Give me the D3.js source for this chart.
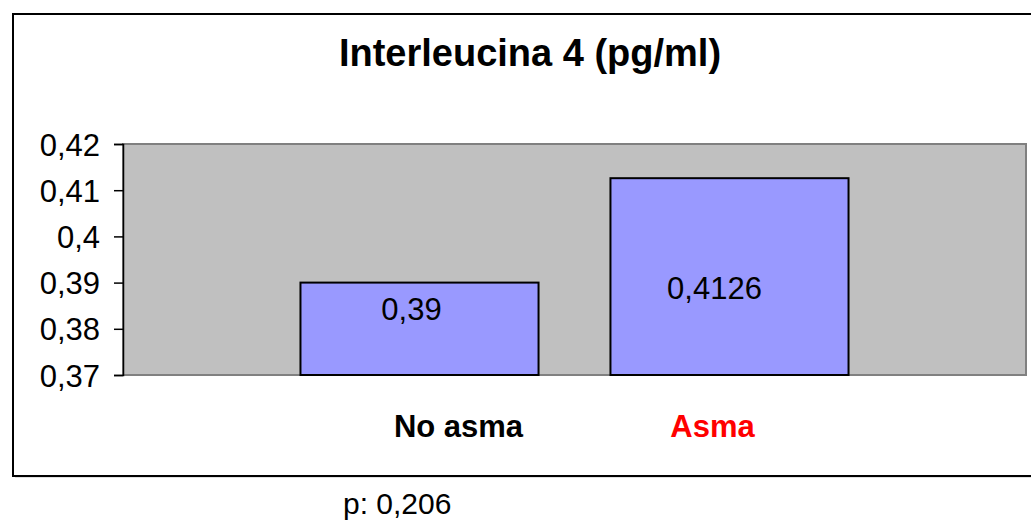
<!DOCTYPE html>
<html>
<head>
<meta charset="utf-8">
<script src="https://cdn.jsdelivr.net/npm/d3@7"></script>
<style>
  html, body { margin: 0; padding: 0; background: #fff; }
  svg { display: block; }
  text { font-family: "Liberation Sans", Arial, sans-serif; }
</style>
</head>
<body>
<svg id="chart" width="1031" height="522"></svg>
<script>
const categories = ["No asma", "Asma"];
const values = [0.39, 0.4126];
const valueLabels = ["0,39", "0,4126"];
const categoryColors = ["#000000", "#FF0000"];
const yTicks = [0.37, 0.38, 0.39, 0.40, 0.41, 0.42];
const yTickLabels = ["0,37", "0,38", "0,39", "0,4", "0,41", "0,42"];
const title = "Interleucina 4 (pg/ml)";
const footnote = "p: 0,206";

const svg = d3.select("#chart");

// outer chart frame
svg.append("rect")
  .attr("x", 15).attr("y", 16).attr("width", 1040).attr("height", 462)
  .attr("fill", "#e0e0e0");
svg.append("rect")
  .attr("x", 13).attr("y", 14).attr("width", 1040).attr("height", 462)
  .attr("fill", "#fff").attr("stroke", "#000").attr("stroke-width", 2);

const plot = { left: 123, right: 1026, top: 144, bottom: 375 };

const x = d3.scaleBand()
  .domain(categories)
  .range([plot.left, plot.right])
  .paddingInner(0.232)
  .paddingOuter(0.5725);

const y = d3.scaleLinear()
  .domain([0.37, 0.42])
  .range([plot.bottom, plot.top]);

// plot area
svg.append("rect")
  .attr("x", plot.left).attr("y", plot.top)
  .attr("width", plot.right - plot.left).attr("height", plot.bottom - plot.top)
  .attr("fill", "#C0C0C0").attr("stroke", "#808080").attr("stroke-width", 2);

// bars
svg.selectAll("rect.bar")
  .data(values)
  .join("rect")
  .attr("class", "bar")
  .attr("x", (d, i) => x(categories[i]))
  .attr("y", d => y(d))
  .attr("width", x.bandwidth())
  .attr("height", d => y(0.37) - y(d))
  .attr("fill", "#9999FF")
  .attr("stroke", "#000")
  .attr("stroke-width", 2);

// value labels
const labelDx = [-8, -15];
const labelDy = [37, 121];
svg.selectAll("text.vlabel")
  .data(values)
  .join("text")
  .attr("class", "vlabel")
  .attr("x", (d, i) => x(categories[i]) + x.bandwidth() / 2 + labelDx[i])
  .attr("y", (d, i) => y(d) + labelDy[i])
  .attr("text-anchor", "middle")
  .attr("font-size", 31)
  .attr("fill", "#000")
  .text((d, i) => valueLabels[i]);

// y axis
const yAxis = d3.axisLeft(y)
  .tickValues(yTicks)
  .tickFormat((d, i) => yTickLabels[i])
  .tickSize(9)
  .tickPadding(14);
const ya = svg.append("g")
  .attr("transform", `translate(${plot.left},0)`)
  .call(yAxis);
ya.select(".domain").attr("stroke", "#000").attr("stroke-width", 1.5);
ya.selectAll(".tick line").attr("stroke", "#000").attr("stroke-width", 1.5);
ya.selectAll(".tick text")
  .attr("font-size", 31)
  .attr("font-family", "'Liberation Sans', Arial, sans-serif")
  .attr("fill", "#000")
  .attr("dy", "0.36em");

// category labels
const catDx = [39, -17];
svg.selectAll("text.cat")
  .data(categories)
  .join("text")
  .attr("class", "cat")
  .attr("x", (d, i) => x(d) + x.bandwidth() / 2 + catDx[i])
  .attr("y", 437)
  .attr("text-anchor", "middle")
  .attr("font-size", 31)
  .attr("font-weight", "bold")
  .attr("fill", (d, i) => categoryColors[i])
  .text(d => d);

// title
svg.append("text")
  .attr("x", 530).attr("y", 66)
  .attr("text-anchor", "middle")
  .attr("font-size", 38)
  .attr("font-weight", "bold")
  .text(title);

// footnote
svg.append("text")
  .attr("x", 343).attr("y", 514)
  .attr("font-family", "'Open Sans', sans-serif")
  .attr("font-size", 30)
  .text(footnote);
</script>
</body>
</html>
